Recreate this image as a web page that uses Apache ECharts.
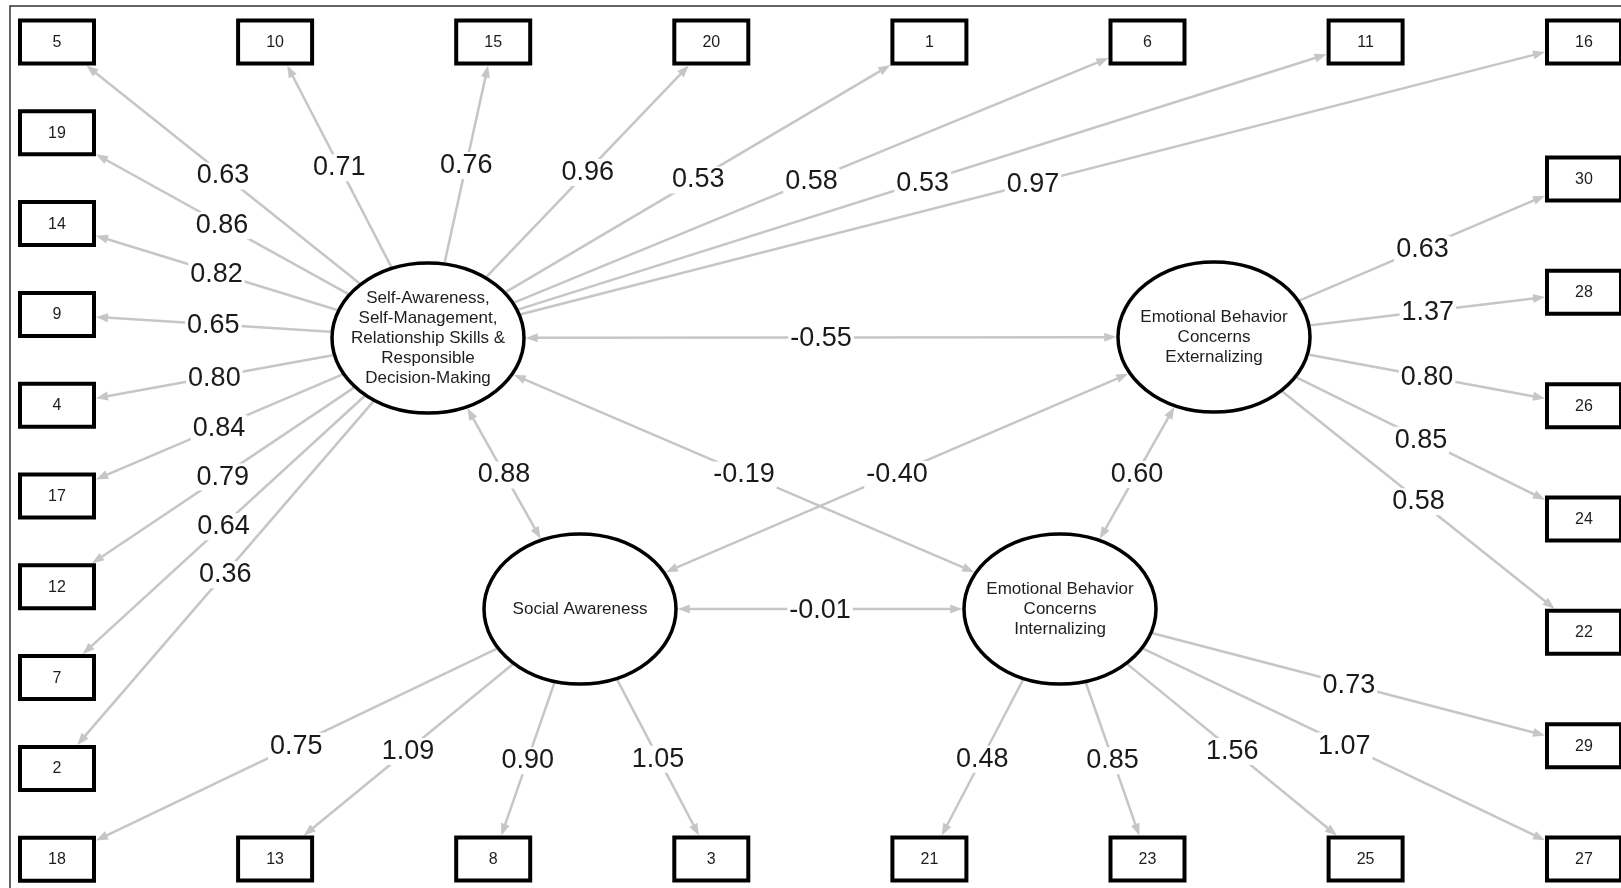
<!DOCTYPE html>
<html><head><meta charset="utf-8">
<script src="https://cdn.jsdelivr.net/npm/echarts@6/dist/echarts.min.js"></script>
<style>html,body{margin:0;padding:0;background:#fff;overflow:hidden}#chart{width:1621px;height:888px}</style>
</head><body><div id="chart"></div>
<script>
// ---------------- data ----------------
const latentKeys = ['SA', 'SOC', 'INT', 'EXT'];
const latentLabels = [
  'Self-Awareness,\nSelf-Management,\nRelationship Skills &\nResponsible\nDecision-Making',
  'Social Awareness',
  'Emotional Behavior\nConcerns\nInternalizing',
  'Emotional Behavior\nConcerns\nExternalizing'
];
const saItems = ['5','19','14','9','4','17','12','7','2','10','15','20','1','6','11','16'];
const saLoadings = [0.63,0.86,0.82,0.65,0.80,0.84,0.79,0.64,0.36,0.71,0.76,0.96,0.53,0.58,0.53,0.97];
const socItems = ['18','13','8','3'];
const socLoadings = [0.75,1.09,0.90,1.05];
const intItems = ['21','23','25','29','27'];
const intLoadings = [0.48,0.85,1.56,0.73,1.07];
const extItems = ['30','28','26','24','22'];
const extLoadings = [0.63,1.37,0.80,0.85,0.58];
const covFrom = ['SA','SA','SA','SOC','EXT','SOC'];
const covTo = ['EXT','SOC','INT','EXT','INT','INT'];
const covValues = [-0.55,0.88,-0.19,-0.40,0.60,-0.01];

// ---------------- layout (positions / order only) ----------------
const topRow = ['5','10','15','20','1','6','11','16'];
const bottomRow = ['18','13','8','3','21','23','25','27'];
const leftCol = ['5','19','14','9','4','17','12','7','2','18'];
const rightCol = ['30','28','26','24','22','29','27'];
const latentCenters = { SA: [428, 338], SOC: [580, 609], INT: [1060, 609], EXT: [1214, 337] };

const L = {
  colX0: 57, colDX: 218.1, topY: 42, bottomY: 859,
  leftY0: 42, leftDY: 90.8,
  rightX: 1584, rightY0: 179, rightDY: 113.33,
  boxW: 74, boxH: 43, boxLine: 4,
  ellRX: 96, ellRY: 75, ellLine: 3.5,
  lineColor: '#c6c6c6', lineWidth: 2.5, arrowLen: 12, arrowHalf: 4.5,
  labelDY: 1.5, nodeTextDY: 0.5,
  labelFont: 27, ellFont: 17, boxFont: 16
};

const nodes = {};
topRow.forEach((k, i) => { nodes[k] = { x: L.colX0 + L.colDX * i, y: L.topY }; });
bottomRow.forEach((k, i) => { nodes[k] = { x: L.colX0 + L.colDX * i, y: L.bottomY }; });
leftCol.forEach((k, i) => { nodes[k] = { x: L.colX0, y: L.leftY0 + L.leftDY * i }; });
nodes['16'] = { x: L.rightX, y: L.topY };
rightCol.forEach((k, i) => { nodes[k] = { x: L.rightX, y: L.rightY0 + L.rightDY * i }; });
Object.keys(nodes).forEach(k => { nodes[k].shape = 'rect'; nodes[k].label = k; });
latentKeys.forEach((k, i) => {
  nodes[k] = { x: latentCenters[k][0], y: latentCenters[k][1], shape: 'ellipse', label: latentLabels[i] };
});

// edges
const edges = [];
function addLoadings(lat, items, vals) {
  items.forEach((it, i) => edges.push({ from: lat, to: it, value: vals[i], both: false }));
}
addLoadings('SA', saItems, saLoadings);
addLoadings('SOC', socItems, socLoadings);
addLoadings('INT', intItems, intLoadings);
addLoadings('EXT', extItems, extLoadings);
covValues.forEach((v, i) => edges.push({ from: covFrom[i], to: covTo[i], value: v, both: true }));

function clipT(node, dx, dy) {
  if (node.shape === 'ellipse') {
    const rx = L.ellRX + L.ellLine / 2, ry = L.ellRY + L.ellLine / 2;
    return 1 / Math.sqrt((dx / rx) * (dx / rx) + (dy / ry) * (dy / ry));
  }
  const hw = L.boxW / 2 + L.boxLine / 2, hh = L.boxH / 2 + L.boxLine / 2;
  const tx = dx === 0 ? Infinity : hw / Math.abs(dx);
  const ty = dy === 0 ? Infinity : hh / Math.abs(dy);
  return Math.min(tx, ty);
}

function geom(api, idx) {
  const e = edges[idx];
  const n1 = nodes[e.from], n2 = nodes[e.to];
  const p1 = api.coord([api.value(0), api.value(1)]);
  const p2 = api.coord([api.value(2), api.value(3)]);
  const dx = p2[0] - p1[0], dy = p2[1] - p1[1];
  const t1 = clipT(n1, dx, dy), t2 = clipT(n2, dx, dy);
  const s = [p1[0] + dx * t1, p1[1] + dy * t1];
  const t = [p2[0] - dx * t2, p2[1] - dy * t2];
  return { e, s, t };
}

function arrowHead(tip, ux, uy) {
  const bx = tip[0] - ux * L.arrowLen, by = tip[1] - uy * L.arrowLen;
  return {
    type: 'polygon',
    shape: { points: [tip, [bx - uy * L.arrowHalf, by + ux * L.arrowHalf], [bx + uy * L.arrowHalf, by - ux * L.arrowHalf]] },
    style: { fill: L.lineColor }
  };
}

const edgeData = edges.map(e => [nodes[e.from].x, nodes[e.from].y, nodes[e.to].x, nodes[e.to].y, e.value]);
const nodeKeys = Object.keys(nodes);
const nodeData = nodeKeys.map(k => [nodes[k].x, nodes[k].y]);

const chart = echarts.init(document.getElementById('chart'), null, { renderer: 'canvas' });
chart.setOption({
  animation: false,
  backgroundColor: '#ffffff',
  grid: { left: 0, right: 0, top: 0, bottom: 0 },
  xAxis: { type: 'value', min: 0, max: 1621, show: false },
  yAxis: { type: 'value', min: 0, max: 888, inverse: true, show: false },
  graphic: [{
    type: 'rect', silent: true, z: 0,
    shape: { x: 10, y: 6, width: 1700, height: 1000 },
    style: { fill: 'none', stroke: '#333', lineWidth: 1.5 }
  }],
  series: [
    {
      type: 'custom', name: 'paths', coordinateSystem: 'cartesian2d', clip: false, z: 2,
      encode: { x: [0, 2], y: [1, 3] },
      data: edgeData,
      renderItem: function (params, api) {
        const g = geom(api, params.dataIndex);
        const dx = g.t[0] - g.s[0], dy = g.t[1] - g.s[1];
        const len = Math.sqrt(dx * dx + dy * dy);
        const ux = dx / len, uy = dy / len;
        const sEnd = g.e.both ? [g.s[0] + ux * L.arrowLen * 0.8, g.s[1] + uy * L.arrowLen * 0.8] : g.s;
        const tEnd = [g.t[0] - ux * L.arrowLen * 0.8, g.t[1] - uy * L.arrowLen * 0.8];
        const children = [{
          type: 'line',
          shape: { x1: sEnd[0], y1: sEnd[1], x2: tEnd[0], y2: tEnd[1] },
          style: { stroke: L.lineColor, lineWidth: L.lineWidth }
        }, arrowHead(g.t, ux, uy)];
        if (g.e.both) children.push(arrowHead(g.s, -ux, -uy));
        return { type: 'group', children };
      }
    },
    {
      type: 'custom', name: 'labels', coordinateSystem: 'cartesian2d', clip: false, z: 3,
      encode: { x: [0, 2], y: [1, 3] },
      data: edgeData,
      renderItem: function (params, api) {
        const g = geom(api, params.dataIndex);
        const mx = (g.s[0] + g.t[0]) / 2, my = (g.s[1] + g.t[1]) / 2;
        return {
          type: 'text',
          style: {
            x: mx, y: my + L.labelDY, text: api.value(4).toFixed(2),
            align: 'center', verticalAlign: 'middle',
            fontSize: L.labelFont, fontFamily: '"Liberation Sans", Arial, sans-serif',
            fill: '#1a1a1a', backgroundColor: '#ffffff', padding: [0, 2]
          }
        };
      }
    },
    {
      type: 'custom', name: 'nodes', coordinateSystem: 'cartesian2d', clip: false, z: 4,
      encode: { x: 0, y: 1 },
      data: nodeData,
      renderItem: function (params, api) {
        const n = nodes[nodeKeys[params.dataIndex]];
        const c = api.coord([api.value(0), api.value(1)]);
        let shapeEl, font, lh;
        if (n.shape === 'ellipse') {
          shapeEl = { type: 'ellipse', shape: { cx: c[0], cy: c[1], rx: L.ellRX, ry: L.ellRY },
            style: { fill: '#ffffff', stroke: '#000000', lineWidth: L.ellLine } };
          font = L.ellFont; lh = 20;
        } else {
          shapeEl = { type: 'rect', shape: { x: c[0] - L.boxW / 2, y: c[1] - L.boxH / 2, width: L.boxW, height: L.boxH },
            style: { fill: '#ffffff', stroke: '#000000', lineWidth: L.boxLine } };
          font = L.boxFont; lh = 18;
        }
        return {
          type: 'group',
          children: [shapeEl, {
            type: 'text',
            style: {
              x: c[0], y: c[1] + L.nodeTextDY, text: n.label, align: 'center', verticalAlign: 'middle',
              fontSize: font, lineHeight: lh, fontFamily: '"Liberation Sans", Arial, sans-serif', fill: '#1e1e1e'
            }
          }]
        };
      }
    }
  ]
});
</script>
</body></html>
